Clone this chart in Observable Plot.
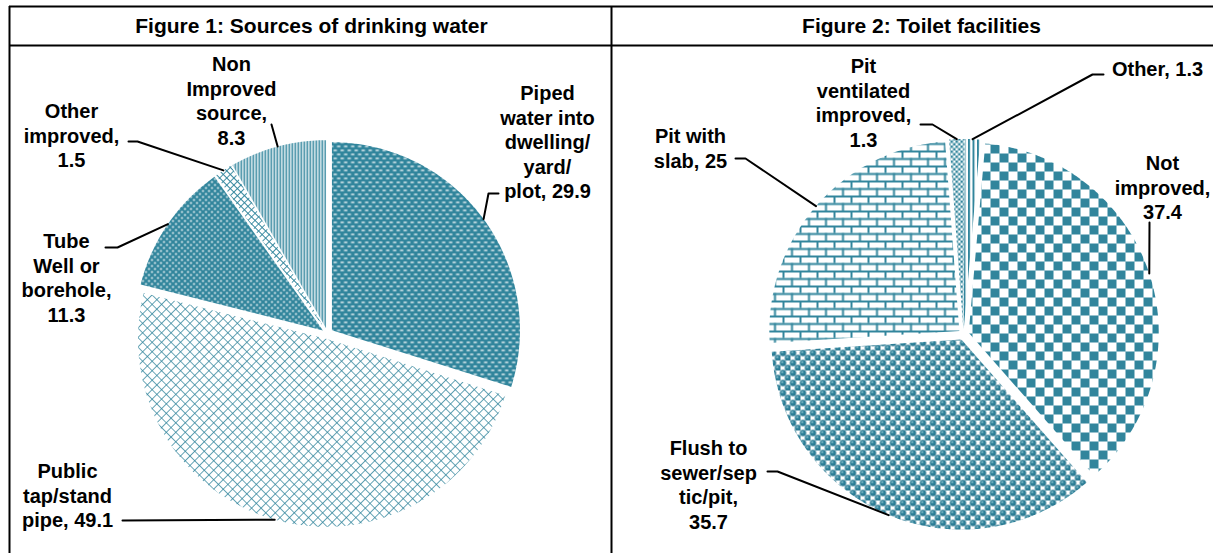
<!DOCTYPE html>
<html><head><meta charset="utf-8">
<script src="https://cdn.jsdelivr.net/npm/d3@7"></script>
<script src="https://cdn.jsdelivr.net/npm/@observablehq/plot@0.6"></script>
<style>body{margin:0;background:#fff;}</style>
</head><body><div id="chart"></div>
<script>
// ---------- DATA ----------
const waterCategories = ["Piped water into dwelling/yard/plot", "Public tap/stand pipe", "Tube Well or borehole", "Other improved", "Non Improved source"];
const waterValues = [29.9, 49.1, 11.3, 1.5, 8.3];
const waterNames = ["Piped\nwater into\ndwelling/\nyard/\nplot,", "Public\ntap/stand\npipe,", "Tube\nWell or\nborehole,", "Other\nimproved,", "Non\nImproved\nsource,"];
const waterSep = [" ", " ", "\n", "\n", "\n"];

const toiletCategories = ["Not improved", "Flush to sewer/septic/pit", "Pit with slab", "Pit ventilated improved", "Other"];
const toiletValues = [37.4, 35.7, 25, 1.3, 1.3];
const toiletNames = ["Not\nimproved,", "Flush to\nsewer/sep\ntic/pit,", "Pit with\nslab,", "Pit\nventilated\nimproved,", "Other,"];
const toiletSep = ["\n", "\n", " ", "\n", " "];

const titles = ["Figure 1: Sources of drinking water", "Figure 2: Toilet facilities"];

// ---------- LAYOUT / STYLE ----------
const W = 1213, H = 553;
const TEAL = "#31859C";
const FONT = 20, LINE = 24.5, TITLE_FONT = 21;
const pies = [
  {cx: 327, cy: 333, r: 188, start: 0, explode: 5.5},
  {cx: 963, cy: 334, r: 190, start: 5, explode: 5.5}
];
const waterPatterns = ["p-dash", "p-fine-hatch", "p-dots", "p-big-hatch", "p-vstripe"];
const toiletPatterns = ["p-checker", "p-sphere", "p-brick", "p-small-checker", "p-wide-stripe"];
// label block: center x, first-line center y, leader points from label side
const waterLabelPos = [
  {x: 547, y: 92, leader: [[498, 193], [488, 193]]},
  {x: 67, y: 470, leader: [[122, 520]]},
  {x: 66, y: 240, leader: [[105, 247], [117, 247]]},
  {x: 71, y: 110, leader: [[128, 141], [137, 141]]},
  {x: 231, y: 63, leader: [[271, 124]]}
];
const toiletLabelPos = [
  {x: 1162, y: 162, leader: [[1149, 222]]},
  {x: 708, y: 447, leader: [[767, 471], [777, 471]]},
  {x: 690, y: 135, leader: [[735, 158], [745, 158]]},
  {x: 863, y: 65, leader: [[920, 124], [932, 124]]},
  {x: 1157, y: 68, leader: [[1103, 74], [1092, 74]]}
];
const titlePos = [{x: 311, y: 26}, {x: 921, y: 26}];

// ---------- BUILD ----------
function buildPie(values, names, seps, pats, labelPos, p) {
  const a0 = p.start * Math.PI / 180;
  const arcs = d3.pie().sort(null).startAngle(a0).endAngle(a0 + 2 * Math.PI)(values);
  const slices = [], leaders = [], labels = [];
  arcs.forEach((a, i) => {
    const m = (a.startAngle + a.endAngle) / 2;
    const dx = p.explode * Math.sin(m), dy = -p.explode * Math.cos(m);
    const pts = [{x: p.cx + dx, y: p.cy + dy}];
    const n = Math.max(2, Math.ceil((a.endAngle - a.startAngle) / (Math.PI / 360)));
    for (let k = 0; k <= n; k++) {
      const t = a.startAngle + (a.endAngle - a.startAngle) * k / n;
      pts.push({x: p.cx + dx + p.r * Math.sin(t), y: p.cy + dy - p.r * Math.cos(t)});
    }
    slices.push({pts, fill: `url(#${pats[i]})`});
    const end = {x: p.cx + (p.r + p.explode) * Math.sin(m), y: p.cy - (p.r + p.explode) * Math.cos(m)};
    leaders.push(labelPos[i].leader.map(([x, y]) => ({x, y})).concat([end]));
    const text = names[i] + seps[i] + values[i];
    const nl = text.split("\n").length;
    labels.push({x: labelPos[i].x, y: labelPos[i].y + (nl - 1) * LINE / 2, text});
  });
  return {slices, leaders, labels};
}

const p1 = buildPie(waterValues, waterNames, waterSep, waterPatterns, waterLabelPos, pies[0]);
const p2 = buildPie(toiletValues, toiletNames, toiletSep, toiletPatterns, toiletLabelPos, pies[1]);
const all = [p1, p2];

const marks = [];
for (const p of all) {
  for (const s of p.slices) marks.push(Plot.line(s.pts, {x: "x", y: "y", fill: s.fill, stroke: "none", curve: "linear-closed"}));
  for (const l of p.leaders) marks.push(Plot.line(l, {x: "x", y: "y", stroke: "#000", strokeWidth: 2, curve: "linear"}));
  marks.push(Plot.text(p.labels, {x: "x", y: "y", text: "text", fontSize: FONT, fontWeight: "bold", lineHeight: LINE / FONT, lineAnchor: "middle", textAnchor: "middle", fill: "#000"}));
}
// frame
marks.push(Plot.ruleY([6, 45], {x1: 9, x2: W, stroke: "#000", strokeWidth: 2}));
marks.push(Plot.ruleX([9, 611], {y1: 6, y2: H, stroke: "#000", strokeWidth: 2}));
marks.push(Plot.text(titles.map((t, i) => ({...titlePos[i], t})), {x: "x", y: "y", text: "t", fontSize: TITLE_FONT, fontWeight: "bold", textAnchor: "middle", lineAnchor: "middle", fill: "#000"}));

const svg = Plot.plot({
  width: W, height: H,
  marginTop: 0, marginRight: 0, marginBottom: 0, marginLeft: 0,
  x: {domain: [0, W], range: [0, W], axis: null},
  y: {domain: [0, H], range: [0, H], axis: null},
  style: {fontFamily: "'Liberation Sans', Arial, sans-serif", background: "#fff", color: "#000"},
  marks
});

const defs = document.createElementNS("http://www.w3.org/2000/svg", "defs");
defs.innerHTML = `
<pattern id="p-dash" width="7" height="8" patternUnits="userSpaceOnUse">
  <rect width="7" height="8" fill="${TEAL}"/>
  <rect x="0.4" y="1.2" width="3.6" height="1.4" rx="0.7" fill="#fff"/>
  <rect x="3.9" y="5.2" width="3.6" height="1.4" rx="0.7" fill="#fff"/>
  <rect x="-3.1" y="5.2" width="3.6" height="1.4" rx="0.7" fill="#fff"/>
</pattern>
<pattern id="p-fine-hatch" width="6.7" height="6.7" patternUnits="userSpaceOnUse" patternTransform="rotate(45)">
  <rect width="6.7" height="6.7" fill="#fff"/>
  <path d="M0,0H6.7M0,0V6.7" stroke="${TEAL}" stroke-width="1.5"/>
</pattern>
<pattern id="p-dots" width="6" height="6" patternUnits="userSpaceOnUse">
  <rect width="6" height="6" fill="${TEAL}"/>
  <circle cx="1.5" cy="1.5" r="0.95" fill="#fff"/>
  <circle cx="4.5" cy="4.5" r="0.95" fill="#fff"/>
</pattern>
<pattern id="p-big-hatch" width="5" height="5" patternUnits="userSpaceOnUse" patternTransform="rotate(45)">
  <rect width="5" height="5" fill="#fff"/>
  <path d="M0,0H5M0,0V5" stroke="${TEAL}" stroke-width="1.8"/>
</pattern>
<pattern id="p-vstripe" width="3" height="3" patternUnits="userSpaceOnUse">
  <rect width="3" height="3" fill="#fff"/>
  <rect width="1.6" height="3" fill="${TEAL}"/>
</pattern>
<pattern id="p-checker" width="18" height="18" patternUnits="userSpaceOnUse">
  <rect width="18" height="18" fill="#fff"/>
  <rect width="9" height="9" fill="${TEAL}"/>
  <rect x="9" y="9" width="9" height="9" fill="${TEAL}"/>
</pattern>
<radialGradient id="g-sphere" cx="0.5" cy="0.5" r="0.55" fx="0.35" fy="0.3">
  <stop offset="0" stop-color="#cfe6ee"/>
  <stop offset="0.35" stop-color="${TEAL}"/>
  <stop offset="1" stop-color="#23708a"/>
</radialGradient>
<pattern id="p-sphere" width="10" height="10" patternUnits="userSpaceOnUse">
  <rect width="10" height="10" fill="#fff"/>
  <circle cx="2.5" cy="2.5" r="3.2" fill="url(#g-sphere)"/>
  <circle cx="7.5" cy="7.5" r="3.2" fill="url(#g-sphere)"/>
  <circle cx="12.5" cy="2.5" r="3.2" fill="url(#g-sphere)"/>
  <circle cx="2.5" cy="12.5" r="3.2" fill="url(#g-sphere)"/>
</pattern>
<pattern id="p-brick" width="17" height="15" patternUnits="userSpaceOnUse">
  <rect width="17" height="15" fill="#fff"/>
  <rect y="0" width="17" height="2" fill="${TEAL}"/>
  <rect y="7.5" width="17" height="2" fill="${TEAL}"/>
  <rect x="0" y="0" width="2" height="7.5" fill="${TEAL}"/>
  <rect x="8.5" y="7.5" width="2" height="7.5" fill="${TEAL}"/>
</pattern>
<pattern id="p-small-checker" width="5" height="5" patternUnits="userSpaceOnUse">
  <rect width="5" height="5" fill="#fff"/>
  <rect width="2.5" height="2.5" fill="${TEAL}"/>
  <rect x="2.5" y="2.5" width="2.5" height="2.5" fill="${TEAL}"/>
</pattern>
<pattern id="p-wide-stripe" width="4.5" height="4" patternUnits="userSpaceOnUse">
  <rect width="4.5" height="4" fill="#fff"/>
  <rect width="2" height="4" fill="${TEAL}"/>
</pattern>`;
svg.insertBefore(defs, svg.firstChild);
document.getElementById("chart").appendChild(svg);
</script>
</body></html>
